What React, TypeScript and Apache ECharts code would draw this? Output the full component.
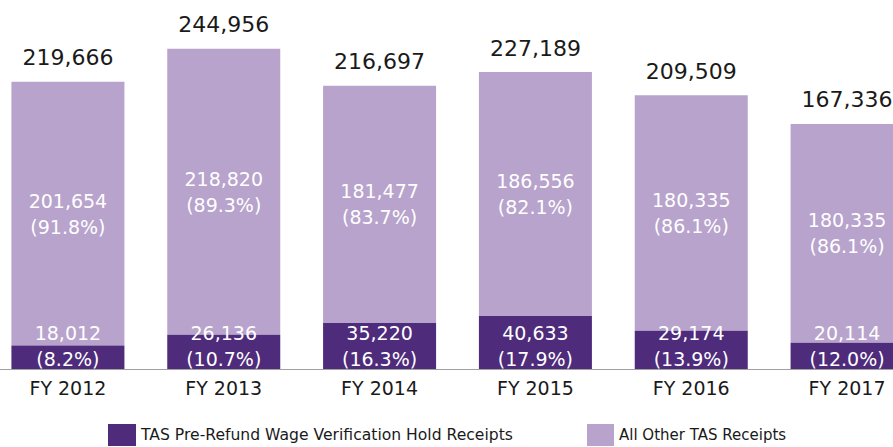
import React, { useEffect, useRef } from "react";
import * as echarts from "echarts";

const categories = ["FY 2012", "FY 2013", "FY 2014", "FY 2015", "FY 2016", "FY 2017"];
const wageHoldReceipts = [18012, 26136, 35220, 40633, 29174, 20114];
const wageHoldPct = ["8.2%", "10.7%", "16.3%", "17.9%", "13.9%", "12.0%"];
// bar heights as drawn in the reference
const otherReceipts = [201654, 218820, 181477, 186556, 180335, 167336];
// labels as printed in the reference
const otherLabels = ["201,654", "218,820", "181,477", "186,556", "180,335", "180,335"];
const otherPct = ["91.8%", "89.3%", "83.7%", "82.1%", "86.1%", "86.1%"];
const totals = [219666, 244956, 216697, 227189, 209509, 167336];

const DARK = "#4e2b7b";
const LIGHT = "#b8a3cc";
const FONT = "DejaVu Sans";

export default function App() {
  const ref = useRef<HTMLDivElement>(null);
  useEffect(() => {
    if (!ref.current) return;
    const chart = echarts.init(ref.current, null, { renderer: "svg" });
    const fmt = (n: number) => n.toLocaleString("en-US");
    chart.setOption({
      animation: false,
      textStyle: { fontFamily: FONT },
      grid: { left: 0, right: 0, top: 3, bottom: 78, containLabel: false },
      legend: [
        {
          left: 118,
          top: 424,
          padding: 0,
          itemWidth: 28,
          itemHeight: 22,
          data: ["TAS Pre-Refund Wage Verification Hold Receipts"],
          textStyle: { fontSize: 15.6, color: "#1a1a1a", fontFamily: FONT },
          icon: "rect",
        },
        {
          left: 597,
          top: 424,
          padding: 0,
          itemWidth: 27,
          itemHeight: 22,
          data: ["All Other TAS Receipts"],
          textStyle: { fontSize: 15, color: "#1a1a1a", fontFamily: FONT },
          icon: "rect",
        },
      ],
      xAxis: {
        type: "category",
        data: categories,
        axisLine: { show: true, lineStyle: { color: "#a0a0a0", width: 1 } },
        axisTick: { show: false },
        axisLabel: { color: "#1a1a1a", fontSize: 19, fontFamily: FONT, margin: 9 },
      },
      yAxis: {
        type: "value",
        min: 0,
        max: 280000,
        show: false,
        splitLine: { show: false },
      },
      series: [
        {
          name: "TAS Pre-Refund Wage Verification Hold Receipts",
          type: "bar",
          stack: "total",
          barWidth: 113,
          data: wageHoldReceipts,
          itemStyle: { color: DARK },
          label: {
            show: true,
            position: "insideBottom",
            distance: -3,
            color: "#ffffff",
            fontSize: 19,
            lineHeight: 26,
            fontFamily: FONT,
            formatter: (p: any) => `${fmt(p.value)}\n(${wageHoldPct[p.dataIndex]})`,
          },
          z: 2,
        },
        {
          name: "All Other TAS Receipts",
          type: "bar",
          stack: "total",
          barWidth: 113,
          data: otherReceipts,
          itemStyle: { color: LIGHT },
          label: {
            show: true,
            position: "inside",
            color: "#ffffff",
            fontSize: 19,
            lineHeight: 26,
            fontFamily: FONT,
            formatter: (p: any) => `${otherLabels[p.dataIndex]}\n(${otherPct[p.dataIndex]})`,
          },
          z: 1,
        },
        {
          name: "totals",
          type: "bar",
          stack: "total",
          barWidth: 113,
          data: totals.map(() => 0),
          itemStyle: { color: "transparent" },
          label: {
            show: true,
            position: "top",
            distance: 13,
            color: "#1a1a1a",
            fontSize: 22,
            fontFamily: FONT,
            formatter: (p: any) => fmt(totals[p.dataIndex]),
          },
        },
      ],
    });
    return () => chart.dispose();
  }, []);
  return (
    <div
      style={{
        position: "absolute",
        left: 0,
        top: 0,
        width: 893,
        height: 447,
        overflow: "hidden",
      }}
    >
      <div
        ref={ref}
        style={{ position: "absolute", left: -10, top: 0, width: 935, height: 447 }}
      />
    </div>
  );
}
